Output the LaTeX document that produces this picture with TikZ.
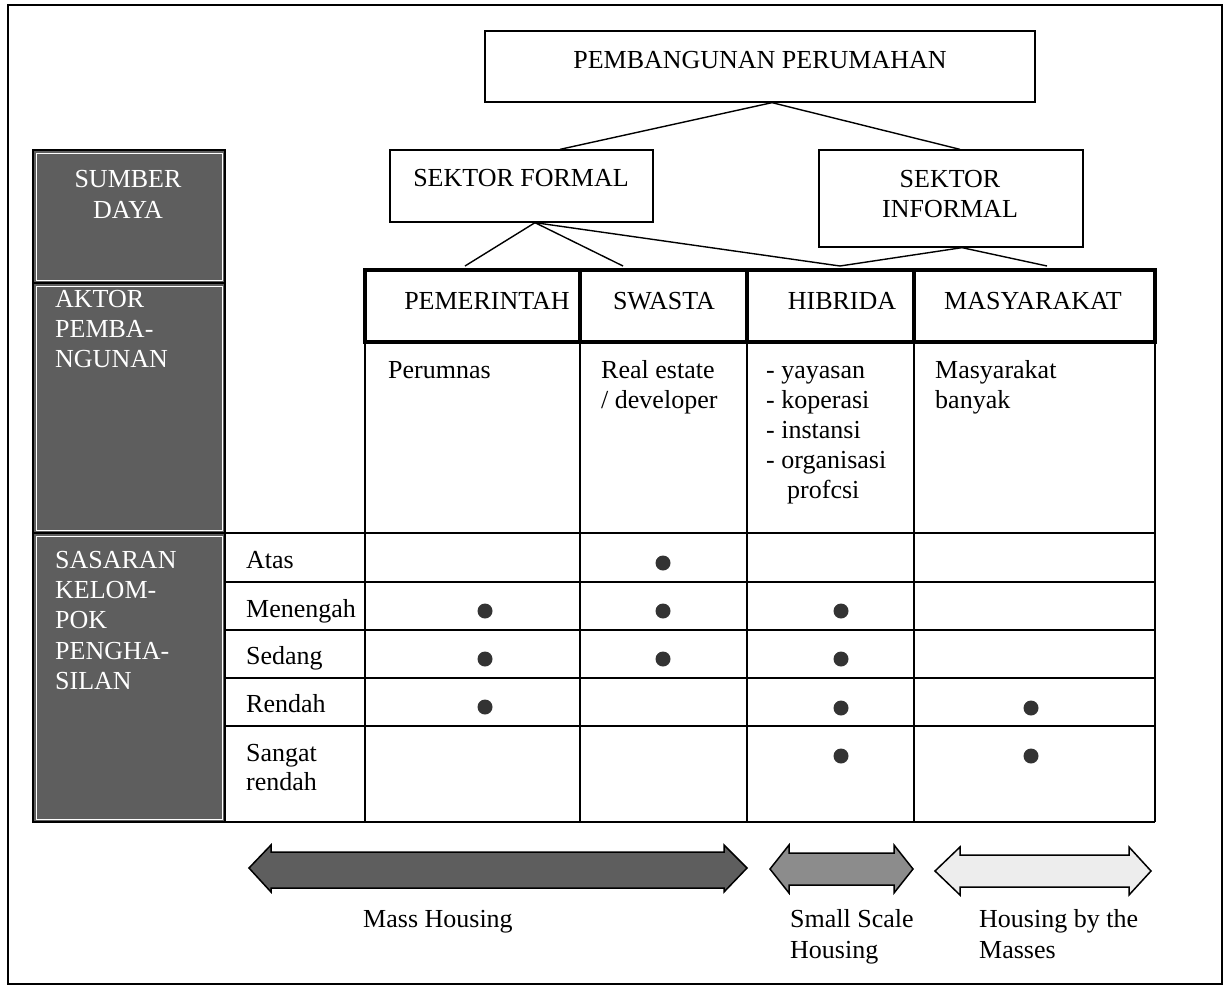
\documentclass[tikz,border=0pt]{standalone}
\usepackage{fontspec}
\setmainfont{Liberation Serif}
\newcommand\fsz{\fontsize{26}{30}\selectfont}
\definecolor{darkcol}{HTML}{5E5E5E}
\definecolor{midcol}{HTML}{8C8C8C}
\definecolor{lightcol}{HTML}{EDEDED}
\begin{document}
\begin{tikzpicture}[x=1pt,y=-1pt,
  txt/.style={inner sep=0pt, anchor=base west, font=\fsz},
  ctxt/.style={inner sep=0pt, anchor=base, font=\fsz},
  wtxt/.style={txt, text=white},
  cwtxt/.style={ctxt, text=white},
  box/.style={draw, line width=1.3pt, inner sep=0pt},
  hcell/.style={draw, line width=4pt, inner sep=0pt, minimum height=72pt},
  dotm/.style={circle, fill=black!80, inner sep=0pt, minimum size=15pt},
  link/.style={line width=1.4pt},
  grid/.style={line width=1.5pt},
  graycell/.style={fill=darkcol, draw=black, line width=1.5pt},
  blockarrow/.style={draw=black, line width=1.5pt, line join=miter}
]
\useasboundingbox (0,0) rectangle (1226,988);
% outer frame
\draw[line width=2pt] (8,5) rectangle (1222,984);

% top boxes
\node[box, minimum width=550pt, minimum height=71pt] (topbox) at (760,66.5) {};
\node[ctxt] (toptxt) at (760,68) {PEMBANGUNAN PERUMAHAN};
\node[box, minimum width=263pt, minimum height=72pt] (sf) at (521.5,186) {};
\node[ctxt] (sftxt) at (521,186) {SEKTOR FORMAL};
\node[box, minimum width=264pt, minimum height=97pt] (si) at (951,198.5) {};
\node[ctxt] (sitxt1) at (950,187) {SEKTOR};
\node[ctxt] (sitxt2) at (950,217) {INFORMAL};

% header cells
\node[hcell, minimum width=215pt] (pem) at (472.5,306) {};
\node[hcell, minimum width=167pt] (swa) at (663.5,306) {};
\node[hcell, minimum width=167pt] (hib) at (830.5,306) {};
\node[hcell, minimum width=241pt] (mas) at (1034.5,306) {};
\node[ctxt] (pemtxt) at (487,309) {PEMERINTAH};
\node[ctxt] (swatxt) at (664,309) {SWASTA};
\node[ctxt] (hibtxt) at (842,309) {HIBRIDA};
\node[ctxt] (mastxt) at (1033,309) {MASYARAKAT};

% connectors
\draw[link] ([xshift=12pt]topbox.south) -- ([xshift=38.5pt]sf.north);
\draw[link] ([xshift=12pt]topbox.south) -- ([xshift=9pt]si.north);
\draw[link] ([xshift=13.5pt]sf.south) -- ([xshift=-7.5pt,yshift=2pt]pem.north);
\draw[link] ([xshift=13.5pt]sf.south) -- ([xshift=-40.5pt,yshift=2pt]swa.north);
\draw[link] ([xshift=13.5pt]sf.south) -- ([xshift=9.5pt,yshift=2pt]hib.north);
\draw[link] ([xshift=11pt]si.south) -- ([xshift=9.5pt,yshift=2pt]hib.north);
\draw[link] ([xshift=11pt]si.south) -- ([xshift=12.5pt,yshift=2pt]mas.north);

% gray left column
\draw[graycell] (33,150) rectangle (225,283);
\draw[graycell] (33,283) rectangle (225,533);
\draw[graycell] (33,533) rectangle (225,822);
\draw[white, line width=0.7pt] (36,153) rectangle (222,280);
\draw[white, line width=0.7pt] (36,286) rectangle (222,530);
\draw[white, line width=0.7pt] (36,536) rectangle (222,819);
\node[cwtxt] (g1) at (128,187) {SUMBER};
\node[cwtxt] (g2) at (128,218) {DAYA};
\node[wtxt] (g3) at (55,307) {AKTOR};
\node[wtxt] (g4) at (55,337) {PEMBA-};
\node[wtxt] (g5) at (55,367) {NGUNAN};
\node[wtxt] (g6) at (55,568) {SASARAN};
\node[wtxt] (g7) at (55,598) {KELOM-};
\node[wtxt] (g8) at (55,628) {POK};
\node[wtxt] (g9) at (55,659) {PENGHA-};
\node[wtxt] (g10) at (55,689) {SILAN};

% body grid
\foreach \x in {365,580,747,914,1155} \draw[grid] (\x,344) -- (\x,822);
\foreach \y in {533,582,630,678,726} \draw[grid] (225,\y) -- (1155,\y);
\draw[grid] (33,822) -- (1155,822);
\draw[grid] (225,533) -- (225,822);

% body texts
\node[txt] (b1) at (388,378) {Perumnas};
\node[txt] (b2) at (601,378) {Real estate};
\node[txt] (b3) at (601,408) {/ developer};
\node[txt] (b4) at (766,378) {- yayasan};
\node[txt] (b5) at (766,408) {- koperasi};
\node[txt] (b6) at (766,438) {- instansi};
\node[txt] (b7) at (766,468) {- organisasi};
\node[txt] (b8) at (787,498) {profcsi};
\node[txt] (b9) at (935,378) {Masyarakat};
\node[txt] (b10) at (935,408) {banyak};

% row labels
\node[txt] (r1) at (246,568) {Atas};
\node[txt] (r2) at (246,617) {Menengah};
\node[txt] (r3) at (246,664) {Sedang};
\node[txt] (r4) at (246,712) {Rendah};
\node[txt] (r5) at (246,761) {Sangat};
\node[txt] (r6) at (246,790) {rendah};

% dots
\node[dotm] (d1) at (663,563) {};
\node[dotm] (d2) at (485,611) {};
\node[dotm] (d3) at (663,611) {};
\node[dotm] (d4) at (841,611) {};
\node[dotm] (d5) at (485,659) {};
\node[dotm] (d6) at (663,659) {};
\node[dotm] (d7) at (841,659) {};
\node[dotm] (d8) at (485,707) {};
\node[dotm] (d9) at (841,708) {};
\node[dotm] (d10) at (1031,708) {};
\node[dotm] (d11) at (841,756) {};
\node[dotm] (d12) at (1031,756) {};

% block arrows
\draw[blockarrow, fill=darkcol] (249,868) -- (271,845) -- (271,852) -- (724,852) -- (724,845) -- (747,868) -- (724,892) -- (724,888) -- (271,888) -- (271,892) -- cycle;
\draw[blockarrow, fill=midcol] (770,869) -- (789,845) -- (789,853) -- (894,853) -- (894,845) -- (913,869) -- (894,893) -- (894,885) -- (789,885) -- (789,893) -- cycle;
\draw[blockarrow, fill=lightcol] (935,871) -- (960,847) -- (960,855) -- (1129,855) -- (1129,847) -- (1151,871) -- (1129,895) -- (1129,887) -- (960,887) -- (960,895) -- cycle;

% arrow labels
\node[ctxt] (l1) at (438,927) {Mass Housing};
\node[txt] (l2) at (790,927) {Small Scale};
\node[txt] (l3) at (790,958) {Housing};
\node[txt] (l4) at (979,927) {Housing by the};
\node[txt] (l5) at (979,958) {Masses};
\end{tikzpicture}
\end{document}
